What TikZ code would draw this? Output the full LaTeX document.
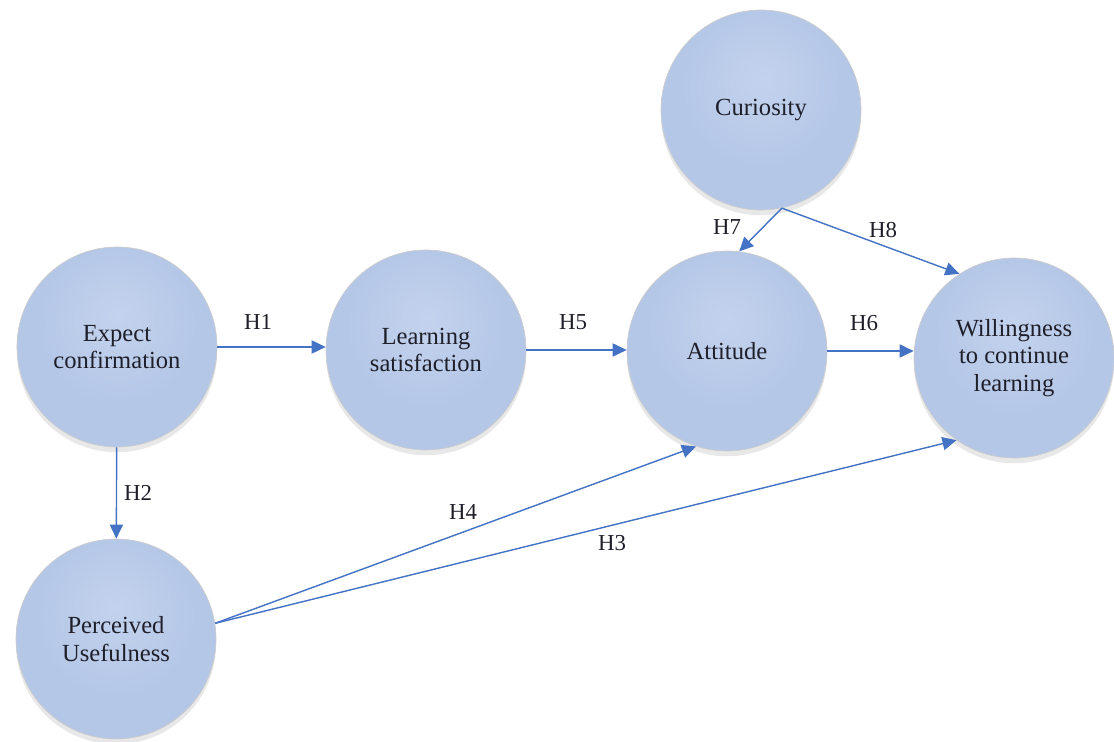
\documentclass[tikz,border=0pt]{standalone}
\usepackage{fontspec}
\setmainfont{Liberation Serif}
\usetikzlibrary{arrows.meta,shadows}
\definecolor{bubbletop}{HTML}{C3D3EE}
\definecolor{bubblemid}{HTML}{B5C7E7}
\definecolor{bubbleedge}{HTML}{A6B9DB}
\definecolor{bubblerim}{HTML}{98A9C8}
\definecolor{arrowblue}{HTML}{4472C4}
\definecolor{textdark}{HTML}{1F1F2A}
\pgfdeclareradialshading{bevel}{\pgfpoint{0bp}{8bp}}{color(0bp)=(bubbletop); color(20bp)=(bubblemid); color(40bp)=(bubblemid); color(50bp)=(bubbleedge); color(56bp)=(bubblerim); color(70bp)=(bubblerim)}
\begin{document}
\begin{tikzpicture}[x=0.02cm, y=-0.02cm, >={Triangle[length=8pt,width=7.5pt]},
  construct/.style={circle, minimum size=4cm, inner sep=0pt, align=center, draw=gray!40, line width=0.4pt, shading=bevel, drop shadow={opacity=0.18, shadow xshift=0pt, shadow yshift=-3pt}, font=\fontsize{14}{15.5}\selectfont, text=textdark},
  hyp/.style={->, draw=arrowblue, fill=arrowblue, line width=0.8pt},
  hlabel/.style={font=\fontsize{13}{15}\selectfont, text=textdark}]
\useasboundingbox (0,0) rectangle (1114,742);
\node[construct] (ec) at (117,347) {Expect\\confirmation};
\node[construct] (ls) at (426,350) {Learning\\satisfaction};
\node[construct] (att) at (727,351) {Attitude};
\node[construct] (wil) at (1014,358) {Willingness\\to continue\\learning};
\node[construct] (cur) at (761,110) {Curiosity};
\node[construct] (pu) at (116,639) {Perceived\\Usefulness};
\draw[hyp] (ec) -- (ec -| ls.west);
\draw[hyp] (ls) -- (ls -| att.west);
\draw[hyp] (att) -- (att -| wil.west);
\draw[hyp] (ec) -- (pu);
\draw[hyp] (cur.-78) -- (att.83);
\draw[hyp] (cur.-78) -- (wil.123);
\draw[hyp] (pu.9) -- (att.-108);
\draw[hyp] (pu.9) -- (wil.-125);
\node[hlabel] (h1) at (258,322) {H1};
\node[hlabel] (h5) at (573,322) {H5};
\node[hlabel] (h6) at (864,323) {H6};
\node[hlabel] (h2) at (138,493) {H2};
\node[hlabel] (h7) at (727,227) {H7};
\node[hlabel] (h8) at (883,230) {H8};
\node[hlabel] (h4) at (463,512) {H4};
\node[hlabel] (h3) at (612,543) {H3};
\end{tikzpicture}
\end{document}
